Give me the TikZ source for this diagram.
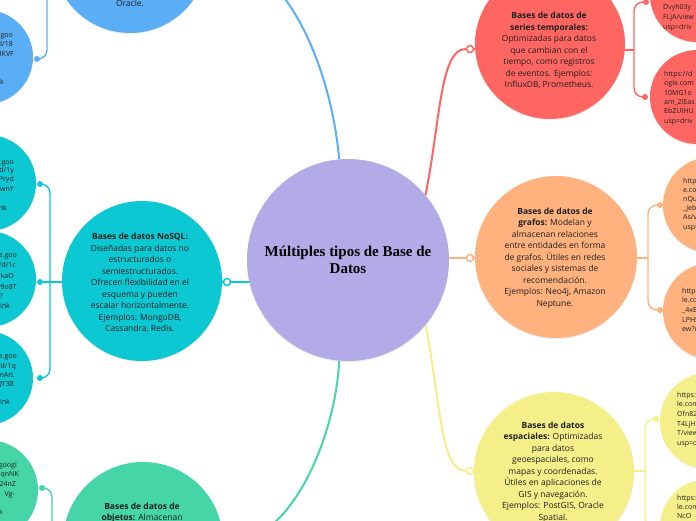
\documentclass[tikz,border=0pt]{standalone}
\usepackage{fontspec}
\setmainfont{Open Sans}
\newfontfamily\titlefont{Liberation Serif}
\usetikzlibrary{shadows}
\pgfdeclarelayer{bg}
\pgfsetlayers{bg,main}
\definecolor{cPur}{HTML}{B3ABE8}
\definecolor{cBlue}{HTML}{5AAEF6}
\definecolor{cTeal}{HTML}{0CC8D3}
\definecolor{cGreen}{HTML}{45D5A6}
\definecolor{cRed}{HTML}{FF6662}
\definecolor{cOrange}{HTML}{FFB17E}
\definecolor{cYellow}{HTML}{F5EF8A}
\definecolor{cText}{HTML}{1E1E1E}
\tikzset{
  bubble/.style={circle, inner sep=0pt, draw=none,
    drop shadow={opacity=0.12, shadow xshift=0pt, shadow yshift=-1.3pt}},
  mtext/.style={align=center, inner sep=0pt, text=cText,
    font=\fontsize{8.5}{11.5}\selectfont},
  ltext/.style={inner sep=0pt, text=cText, font=\fontsize{7}{9.4}\selectfont,
    text height=5.2pt, text depth=1.4pt},
  ll/.style={ltext, anchor=east},
  rl/.style={ltext, anchor=west},
  ring/.style={circle, draw=#1, fill=white, line width=1.5pt,
    minimum size=7pt, inner sep=0pt},
  dot/.style={circle, fill=#1, minimum size=6pt, inner sep=0pt},
  mline/.style={draw=#1, line width=2pt},
  sline/.style={draw=#1, line width=1.4pt, rounded corners=9pt}
}
\begin{document}
\begin{tikzpicture}[x=1pt,y=-1pt]
\useasboundingbox (0,0) rectangle (696,520);
\clip (0,0) rectangle (696,520);

% ---------- central ----------
\node[bubble, fill=cPur, minimum size=202pt] (cen) at (348,260) {};
\node[align=center, inner sep=0pt, text=black,
  font=\titlefont\bfseries\fontsize{15}{17}\selectfont] (title) at (348,260)
  {Múltiples tipos de Base de\\Datos};

% ---------- blue ----------
\node[bubble, fill=cBlue, minimum size=154pt] (blue) at (130,-44) {};
\node[mtext] (bluet) at (130,3.5) {Oracle.};
\node[ring=cBlue] (bring) at (212,-44) {};
\node[bubble, fill=cBlue, minimum size=94pt] (bc1) at (-14,57) {};
\node[dot=cBlue] (bd1) at (37,59) {};
\coordinate (bj) at (47,-44);
\node[ll] (bt1) at (13,36) {goo};
\node[ll] (bt2) at (13,45) {d/18};
\node[ll] (bt3) at (14,55) {lKVF};
\node[ll] (bt4) at (4,83) {k};

% ---------- teal ----------
\node[bubble, fill=cTeal, minimum size=160pt] (nosql) at (142,281) {};
\node[mtext] (nosqlt) at (140,283) {\textbf{Bases de datos NoSQL:}\\Diseñadas para datos no\\estructurados o\\semiestructurados.\\Ofrecen flexibilidad en el\\esquema y pueden\\escalar horizontalmente.\\Ejemplos: MongoDB,\\Cassandra, Redis.};
\node[ring=cTeal] (tring) at (227,282) {};
\node[bubble, fill=cTeal, minimum size=96pt] (tc1) at (-12,183) {};
\node[bubble, fill=cTeal, minimum size=96pt] (tc2) at (-12,279) {};
\node[bubble, fill=cTeal, minimum size=94pt] (tc3) at (-14,378) {};
\node[dot=cTeal] (td1) at (40,184) {};
\node[dot=cTeal] (td2) at (40,282) {};
\node[dot=cTeal] (td3) at (40,378) {};
\coordinate (tj) at (50,282);
\node[ll] (t1a) at (14,163) {.goo};
\node[ll] (t1b) at (14,171) {d/1y};
\node[ll] (t1c) at (14,180) {Pryd};
\node[ll] (t1d) at (14,190) {wnY};
\node[ll] (t1e) at (7,209) {nk};
\node[ll] (t2a) at (17,256) {e.goo};
\node[ll] (t2b) at (16,266) {v/d/1c};
\node[ll] (t2c) at (14,277) {kaO};
\node[ll] (t2d) at (17,288) {y9o8T};
\node[ll] (t2e) at (3,297) {?};
\node[ll] (t2f) at (10,307) {link};
\node[ll] (t3a) at (17,357) {e.goo};
\node[ll] (t3b) at (16,367) {/d/1q};
\node[ll] (t3c) at (15,376) {lnArL};
\node[ll] (t3d) at (14,385) {QT38};
\node[ll] (t3e) at (10,403) {link};

% ---------- green ----------
\node[bubble, fill=cGreen, minimum size=160pt] (obj) at (143,542) {};
\node[mtext] (objt) at (142,513) {\textbf{Bases de datos de}\\\textbf{objetos:} Almacenan};
\node[ring=cGreen] (gring) at (227,542) {};
\node[bubble, fill=cGreen, minimum size=100pt] (gc1) at (-12,490) {};
\node[dot=cGreen] (gd1) at (42,488) {};
\coordinate (gj) at (52,542);
\node[ll] (g1a) at (17,466) {googl};
\node[ll] (g1b) at (19,475) {qnNK};
\node[ll] (g1c) at (16,485) {24nZ};
\node[ll] (g1d) at (15,495) {Vg-};
\node[ll] (g1e) at (3,513) {k};

% ---------- red ----------
\node[bubble, fill=cRed, minimum size=150pt] (ser) at (550,44) {};
\node[mtext] (sert) at (549,50.5) {\textbf{Bases de datos de}\\\textbf{series temporales:}\\Optimizadas para datos\\que cambian con el\\tiempo, como registros\\de eventos. Ejemplos:\\InfluxDB, Prometheus.};
\node[ring=cRed] (rring) at (470,49) {};
\node[bubble, fill=cRed, minimum size=94pt] (rc1) at (697,-5) {};
\node[bubble, fill=cRed, minimum size=94pt] (rc2) at (697,97) {};
\node[dot=cRed] (rd1) at (646,2) {};
\node[dot=cRed] (rd2) at (645,97) {};
\coordinate (rj) at (634,50);
\node[rl] (r1a) at (663,7.5) {Dvyh03y};
\node[rl] (r1b) at (663,17.5) {FLjA/view};
\node[rl] (r1c) at (663,28) {usp=driv};
\node[rl] (r2a) at (664,75) {https://d};
\node[rl] (r2b) at (664,84) {ogle.com};
\node[rl] (r2c) at (664,94) {10MG1o};
\node[rl] (r2d) at (664,103) {am\_2lEas};
\node[rl] (r2e) at (664,112) {EbZUIHU};
\node[rl] (r2f) at (664,122) {usp=driv};

% ---------- orange ----------
\node[bubble, fill=cOrange, minimum size=162pt] (gra) at (556,257) {};
\node[mtext] (grat) at (555,258) {\textbf{Bases de datos de}\\\textbf{grafos:} Modelan y\\almacenan relaciones\\entre entidades en forma\\de grafos. Útiles en redes\\sociales y sistemas de\\recomendación.\\Ejemplos: Neo4j, Amazon\\Neptune.};
\node[ring=cOrange] (oring) at (470,258) {};
\node[bubble, fill=cOrange, minimum size=96pt] (oc1) at (711,205) {};
\node[bubble, fill=cOrange, minimum size=96pt] (oc2) at (711,311) {};
\node[dot=cOrange] (od1) at (660,205) {};
\node[dot=cOrange] (od2) at (660,310) {};
\coordinate (oj) at (648,258);
\node[rl] (o1a) at (683,182) {http};
\node[rl] (o1b) at (683,191) {e.co};
\node[rl] (o1c) at (683,200) {nQu};
\node[rl] (o1d) at (683,209) {\_jeb};
\node[rl] (o1e) at (683,218) {As/v};
\node[rl] (o1f) at (683,228) {usp=};
\node[rl] (o2a) at (682,292) {http};
\node[rl] (o2b) at (682,301) {le.co};
\node[rl] (o2c) at (682,311) {\_4xE};
\node[rl] (o2d) at (682,321) {LPH5};
\node[rl] (o2e) at (682,330) {ew?u};

% ---------- yellow ----------
\node[bubble, fill=cYellow, minimum size=160pt] (esp) at (554,472) {};
\node[mtext] (espt) at (553,472) {\textbf{Bases de datos}\\\textbf{espaciales:} Optimizadas\\para datos\\geoespaciales, como\\mapas y coordenadas.\\Útiles en aplicaciones de\\GIS y navegación.\\Ejemplos: PostGIS, Oracle\\Spatial.};
\node[ring=cYellow] (yring) at (470,471) {};
\node[bubble, fill=cYellow, minimum size=96pt] (yc1) at (708,421) {};
\node[bubble, fill=cYellow, minimum size=96pt] (yc2) at (708,527) {};
\node[dot=cYellow] (yd1) at (656,419) {};
\node[dot=cYellow] (yd2) at (656,528) {};
\coordinate (yj) at (645,471);
\node[rl] (y1a) at (677,396) {https:};
\node[rl] (y1b) at (677,405) {le.com};
\node[rl] (y1c) at (677,415) {Ofn82};
\node[rl] (y1d) at (677,425) {T4LjH};
\node[rl] (y1e) at (677,434) {T/view};
\node[rl] (y1f) at (677,444) {usp=d};
\node[rl] (y2a) at (677,499) {https:};
\node[rl] (y2b) at (677,508) {le.com};
\node[rl] (y2c) at (677,517) {NcO};

% ---------- connectors ----------
\begin{pgfonlayer}{bg}
\draw[mline=cBlue] (cen.95) .. controls +(-9,-100) and +(69,0) .. (bring);
\draw[mline=cBlue] (bring) -- (bring -| blue);
\draw[mline=cTeal] (tring) -- (tring -| cen);
\draw[mline=cTeal] (tring) -- (tring -| nosql);
\draw[mline=cGreen] (cen.265) .. controls +(-4,80) and +(62,0) .. (gring);
\draw[mline=cGreen] (gring) -- (gring -| obj);
\draw[mline=cRed] (cen.40) .. controls +(15,-75) and +(-30,0) .. (rring);
\draw[mline=cRed] (rring) -- (rring -| ser);
\draw[mline=cOrange] (oring) -- (oring -| cen);
\draw[mline=cOrange] (oring) -- (oring -| gra);
\draw[mline=cYellow] (cen.-40) .. controls +(15,75) and +(-30,0) .. (yring);
\draw[mline=cYellow] (yring) -- (yring -| esp);

\draw[sline=cBlue] (bj -| blue) -- (bj) |- (bd1);
\draw[sline=cTeal] (td2) -- (td2 -| nosql);
\draw[sline=cTeal] (tj) |- (td1);
\draw[sline=cTeal] (tj) |- (td3);
\draw[sline=cGreen] (gj -| obj) -- (gj) |- (gd1);
\draw[sline=cRed] (rj -| ser) -- (rj);
\draw[sline=cRed] (rj) |- (rd1);
\draw[sline=cRed] (rj) |- (rd2);
\draw[sline=cOrange] (oj -| gra) -- (oj);
\draw[sline=cOrange] (oj) |- (od1);
\draw[sline=cOrange] (oj) |- (od2);
\draw[sline=cYellow] (yj -| esp) -- (yj);
\draw[sline=cYellow] (yj) |- (yd1);
\draw[sline=cYellow] (yj) |- (yd2);
\end{pgfonlayer}
\end{tikzpicture}
\end{document}
